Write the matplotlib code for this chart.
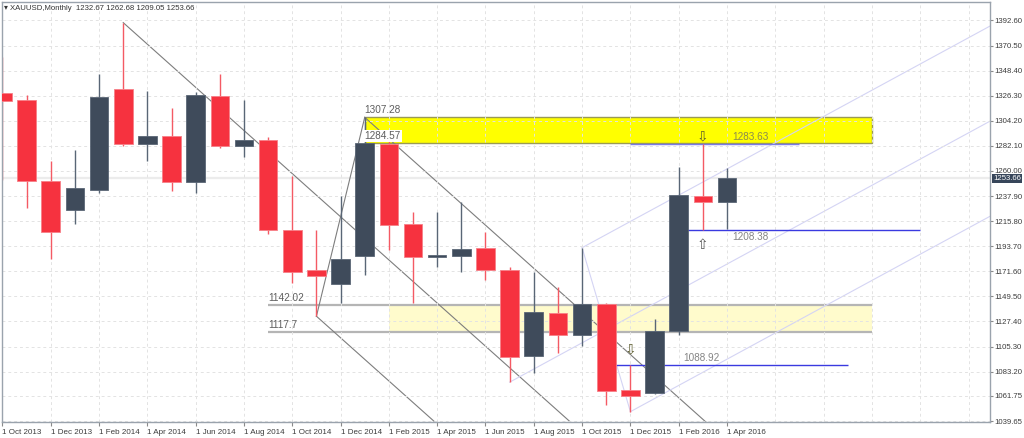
import numpy as np
import matplotlib.pyplot as plt
from matplotlib.patches import Rectangle
import matplotlib.transforms as mtransforms

# monthly XAUUSD candles, Oct 2013 .. Apr 2016
months = ['Oct 2013', 'Nov 2013', 'Dec 2013', 'Jan 2014', 'Feb 2014', 'Mar 2014',
          'Apr 2014', 'May 2014', 'Jun 2014', 'Jul 2014', 'Aug 2014', 'Sep 2014',
          'Oct 2014', 'Nov 2014', 'Dec 2014', 'Jan 2015', 'Feb 2015', 'Mar 2015',
          'Apr 2015', 'May 2015', 'Jun 2015', 'Jul 2015', 'Aug 2015', 'Sep 2015',
          'Oct 2015', 'Nov 2015', 'Dec 2015', 'Jan 2016', 'Feb 2016', 'Mar 2016',
          'Apr 2016']
opens = [1328.5, 1322.6, 1251.4, 1225.2, 1242.8, 1332.1, 1283.7, 1291.2, 1250.2,
         1326.4, 1282.2, 1287.5, 1208.3, 1172.4, 1160.5, 1184.8, 1283.7, 1213.5,
         1184.2, 1184.8, 1191.8, 1173.1, 1097.1, 1135.2, 1115.6, 1142.9, 1067.2,
         1064.0, 1118.8, 1238.2, 1232.67]
highs = [1360.7, 1327.0, 1268.4, 1278.7, 1345.3, 1390.7, 1330.8, 1315.3, 1329.4,
         1345.3, 1322.6, 1289.5, 1255.8, 1208.3, 1238.2, 1307.28, 1287.7, 1223.5,
         1224.1, 1232.3, 1206.2, 1175.4, 1171.0, 1157.8, 1192.4, 1143.8, 1088.92,
         1129.7, 1263.4, 1283.63, 1262.68]
lows = [1252.3, 1227.4, 1182.5, 1213.3, 1240.6, 1282.2, 1268.4, 1242.0, 1240.6,
        1280.1, 1272.2, 1204.7, 1161.4, 1132.0, 1143.8, 1168.1, 1190.7, 1143.8,
        1175.4, 1170.7, 1163.7, 1073.9, 1081.6, 1099.8, 1105.6, 1053.7, 1047.9,
        1063.1, 1115.9, 1208.38, 1209.05]
closes = [1321.8, 1251.6, 1205.9, 1245.0, 1325.0, 1283.7, 1291.2, 1250.2, 1327.0,
          1282.2, 1287.5, 1207.6, 1171.3, 1167.8, 1182.7, 1284.57, 1212.4, 1184.2,
          1185.6, 1190.9, 1172.4, 1096.5, 1136.1, 1115.6, 1142.5, 1065.7, 1061.9,
          1118.8, 1238.8, 1232.67, 1253.66]

date_labels = ['1 Oct 2013', '1 Dec 2013', '1 Feb 2014', '1 Apr 2014', '1 Jun 2014',
               '1 Aug 2014', '1 Oct 2014', '1 Dec 2014', '1 Feb 2015', '1 Apr 2015',
               '1 Jun 2015', '1 Aug 2015', '1 Oct 2015', '1 Dec 2015', '1 Feb 2016',
               '1 Apr 2016']
price_ticks = [1392.60, 1370.50, 1348.40, 1326.30, 1304.20, 1282.10, 1260.00, 1237.90,
               1215.80, 1193.70, 1171.60, 1149.50, 1127.40, 1105.30, 1083.20, 1061.75,
               1039.65]
header = '\u25be XAUUSD,Monthly  1232.67 1262.68 1209.05 1253.66'

# drawn objects
yellow_zone = (1284.57, 1307.28)
light_zone = (1117.7, 1142.02)
blue_levels = [1283.63, 1208.38, 1088.92]

plt.rcParams['font.family'] = ['Liberation Sans', 'DejaVu Sans']

BULL = '#3f4b5b'
BEAR = '#f6323f'

fig = plt.figure(figsize=(10.24, 4.38), dpi=100)
ax = fig.add_axes([2/1024, 16/438, 988/1024, 420/438])
ax.set_xlim(-0.02, 40.89)
ax.set_ylim(1038.8, 1408.9)

x = np.arange(len(months))
o = np.array(opens); c = np.array(closes)
h = np.array(highs); l = np.array(lows)
up = c >= o

# grid
ax.set_xticks(x[::2])
ax.set_xticklabels(date_labels)
ax.set_xticks(np.arange(32, 41, 2), minor=True)
ax.set_yticks(price_ticks)
ax.set_yticklabels(['%.2f' % p for p in price_ticks])
ax.grid(which='both', color='#e3e3e3', ls=(0, (3, 3)), lw=0.7, zorder=0)
ax.axhline(1253.66, color='#ececec', lw=1.6, zorder=0.5)

# zones
ax.add_patch(Rectangle((15, yellow_zone[0]), 21, yellow_zone[1] - yellow_zone[0],
                       fc='#ffff00', ec='#9a9a55', lw=1.0, zorder=1))
ax.add_patch(Rectangle((16, light_zone[0]), 20, light_zone[1] - light_zone[0],
                       fc='#fffbcc', ec='none', zorder=1))
ax.hlines(light_zone, 11, 36, color='#b5b5b5', lw=1.6, zorder=1.2)

# descending pitchfork (Mar 2014 high, Nov 2014 low, Jan 2015 high)
A = (5, h[5]); B = (13, l[13]); C = (15, h[15])
mid = ((B[0] + C[0]) / 2, (B[1] + C[1]) / 2)
slope = (mid[1] - A[1]) / (mid[0] - A[0])
xe = 45
for p in (A, B, C):
    ax.plot([p[0], xe], [p[1], p[1] + slope * (xe - p[0])], color='#7d7d7d', lw=0.8, zorder=1.5)
ax.plot([B[0], C[0]], [B[1], C[1]], color='#7d7d7d', lw=0.8, zorder=1.5)

# rising pitchfork (Jul 2015 low, Oct 2015 high, Dec 2015 low)
A2 = (21, l[21]); B2 = (24, h[24]); C2 = (26, l[26])
mid2 = ((B2[0] + C2[0]) / 2, (B2[1] + C2[1]) / 2)
slope2 = (mid2[1] - A2[1]) / (mid2[0] - A2[0])
for p in (A2, B2, C2):
    ax.plot([p[0], xe], [p[1], p[1] + slope2 * (xe - p[0])], color='#d4d4f4', lw=0.8, zorder=1.5)
ax.plot([B2[0], C2[0]], [B2[1], C2[1]], color='#d4d4f4', lw=0.8, zorder=1.5)

# blue levels
ax.hlines(blue_levels[0], 26, 33, color='#7a7ae6', lw=1.0, zorder=1.6)
ax.hlines(blue_levels[1], 28, 38, color='#3a3ae0', lw=1.0, zorder=1.6)
ax.hlines(blue_levels[2], 25, 35, color='#3a3ae0', lw=1.0, zorder=1.6)

# candles
wick_col = np.where(up, '#596676', '#f45a64')
ax.vlines(x, l, h, colors=wick_col, lw=1.0, zorder=2)
body_h = np.where(np.abs(c - o) < 1.5, 1.5, np.abs(c - o))
ax.bar(x, body_h, 0.77, bottom=np.minimum(o, c), color=np.where(up, BULL, BEAR),
       edgecolor=np.where(up, '#5a6676', '#f77f88'), lw=0.6, zorder=3)

# labels
tcol = '#5e5e5e'
fs = 7.2
ax.text(15, yellow_zone[1] + 2, '1307.28', color=tcol, fontsize=fs, va='bottom', ha='left', zorder=4)
ax.text(15, yellow_zone[0] + 2, '1284.57', color=tcol, fontsize=fs, va='bottom', ha='left', zorder=4,
        bbox=dict(fc='white', ec='none', pad=0.6))
ax.text(11, light_zone[1] + 2, '1142.02', color=tcol, fontsize=fs, va='bottom', ha='left', zorder=4)
ax.text(11, light_zone[0] + 2, '1117.7', color=tcol, fontsize=fs, va='bottom', ha='left', zorder=4)
lcol = '#858585'
ax.text(30.2, blue_levels[0] + 2, '1283.63', color='#8a8a50', fontsize=fs, va='bottom', ha='left', zorder=4)
ax.text(30.2, blue_levels[1] - 2, '1208.38', color=lcol, fontsize=fs, va='top', ha='left', zorder=4)
ax.text(28.2, blue_levels[2] + 2, '1088.92', color=lcol, fontsize=fs, va='bottom', ha='left', zorder=4)
acol = '#5e5e30'
ax.text(29, blue_levels[0] + 7, '\u21e9', color=acol, fontsize=10, va='center', ha='center',
        family='DejaVu Sans', zorder=4)
ax.text(29, blue_levels[1] - 14, '\u21e7', color='#555555', fontsize=10, va='center', ha='center',
        family='DejaVu Sans', zorder=4)
ax.text(26, blue_levels[2] + 14, '\u21e9', color=acol, fontsize=10, va='center', ha='center',
        family='DejaVu Sans', zorder=4)

# axes styling
ax.yaxis.tick_right()
ax.tick_params(axis='y', labelsize=5.6, labelcolor='#3c3c3c', color='#8a8a8a', length=2, pad=1)
ax.tick_params(axis='x', which='major', labelsize=5.8, labelcolor='#3c3c3c', color='#8a8a8a', length=3, pad=2)
ax.tick_params(axis='x', which='minor', length=0)
for lab in ax.get_xticklabels():
    lab.set_ha('left')
for s in ax.spines.values():
    s.set_color('#9aa3ad')
    s.set_linewidth(1.0)

trans = mtransforms.blended_transform_factory(ax.transAxes, ax.transData)
ax.text(1.003, 1253.66, '1253.66', transform=trans, fontsize=5.6, color='white',
        va='center', ha='left', bbox=dict(fc='#37465a', ec='none', pad=0.6), zorder=5)

fig.text(4/1024, 1 - 8/438, header, fontsize=5.6, color='#333333', va='center', ha='left')

fig.savefig('out.png', dpi=100)
